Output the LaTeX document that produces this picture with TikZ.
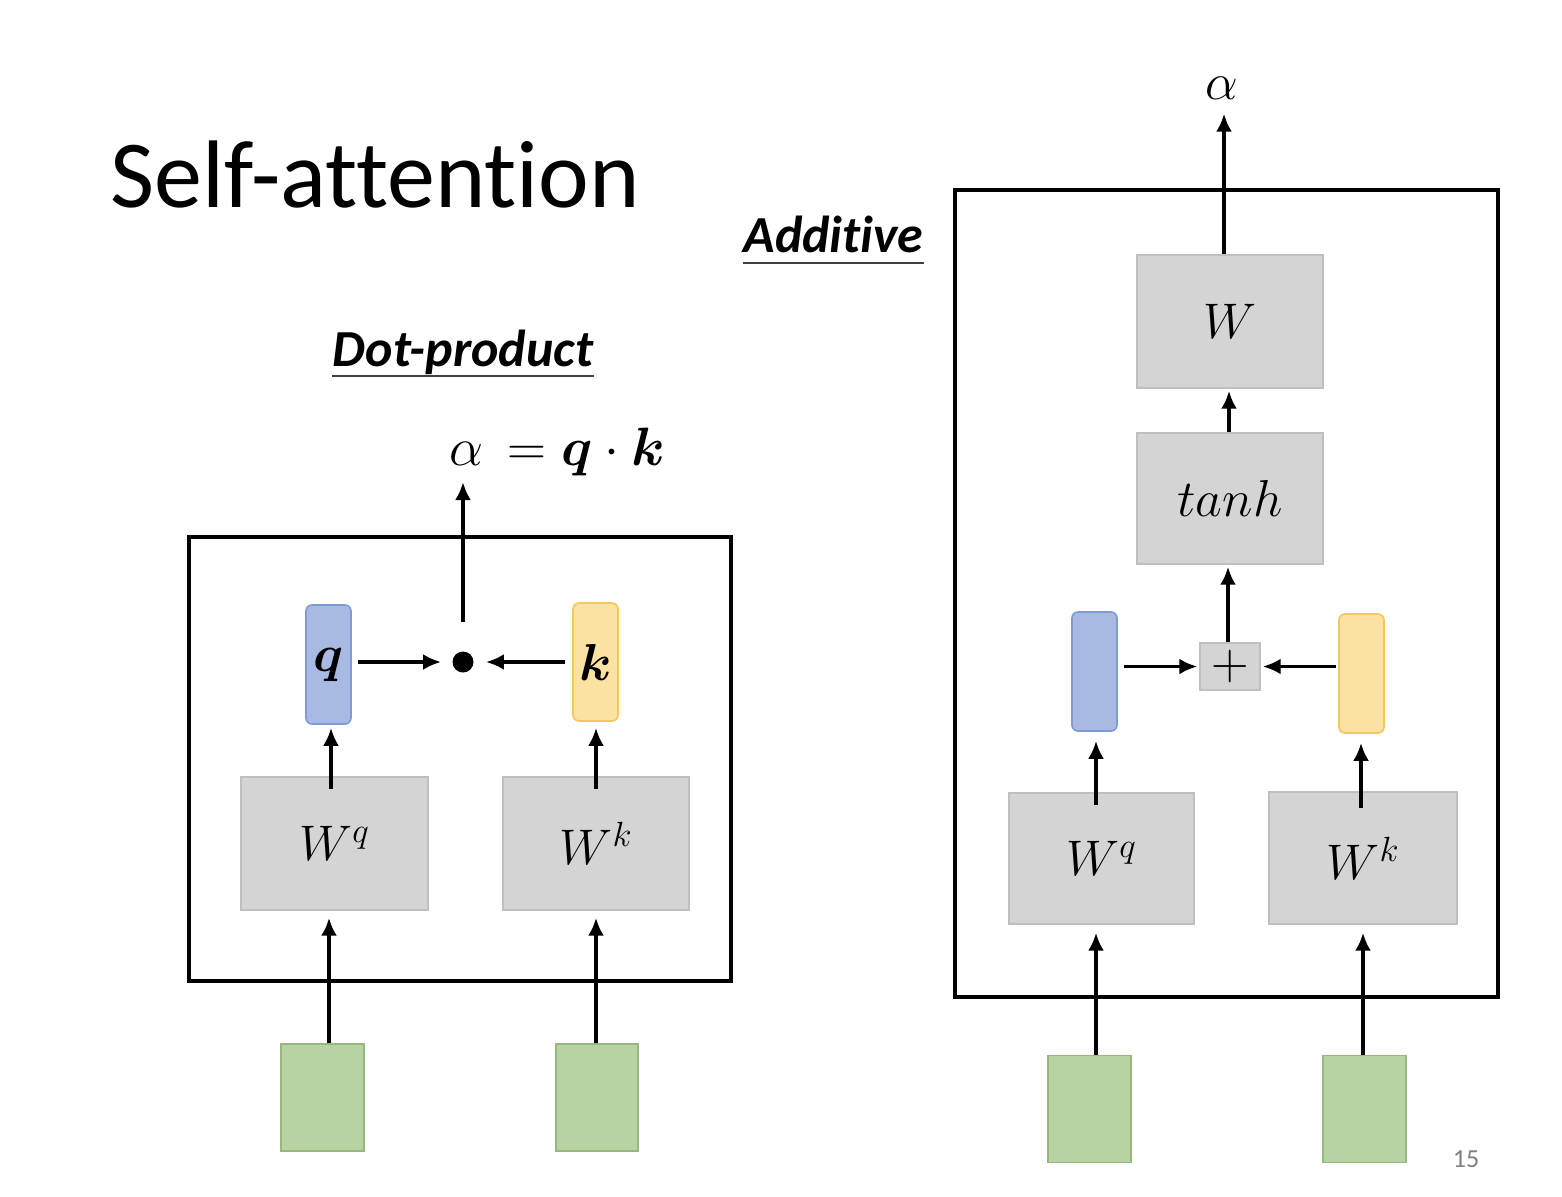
\RequirePackage{fix-cm}
\documentclass[tikz,border=0pt]{standalone}
\usepackage{bm}
\usepackage{fontspec}
\setmainfont{Carlito}[Ligatures={NoCommon}]
\usetikzlibrary{arrows.meta,calc}
\definecolor{boxfill}{HTML}{D4D4D4}
\definecolor{boxline}{HTML}{BFBFBF}
\definecolor{bluefill}{HTML}{A8BAE4}
\definecolor{blueline}{HTML}{7F9BD3}
\definecolor{yelfill}{HTML}{FBE1A2}
\definecolor{yelline}{HTML}{F3C75C}
\definecolor{grnfill}{HTML}{B8D2A4}
\definecolor{grnline}{HTML}{93B97E}
\tikzset{
  gbox/.style={draw=boxline, fill=boxfill, line width=0.7pt, inner sep=0pt, font=\fontsize{25}{29}\selectfont},
  bvec/.style={draw=blueline, fill=bluefill, line width=0.8pt, rounded corners=3pt, minimum width=22.5pt, minimum height=59.5pt, inner sep=0pt, font=\fontsize{26}{30}\selectfont},
  yvec/.style={draw=yelline, fill=yelfill, line width=0.8pt, rounded corners=3pt, minimum width=22.5pt, minimum height=59pt, inner sep=0pt, font=\fontsize{26}{30}\selectfont},
  inbox/.style={draw=grnline, fill=grnfill, line width=0.7pt, minimum width=41.5pt, minimum height=53.5pt, inner sep=0pt},
  arr/.style={-{Latex[length=9pt,width=8pt]}, line width=1.9pt},
  frame/.style={line width=2.3pt},
  head/.style={font=\fontsize{26}{30}\selectfont\bfseries\itshape, inner sep=0pt},
}
\begin{document}
\begin{tikzpicture}[x=0.5pt,y=-0.5pt]
\useasboundingbox (0,0) rectangle (1562,1196);
\fill[white] (0,0) rectangle (1562,1196);

% title
\node[anchor=base west, inner sep=0pt, font=\fontsize{48}{56}\selectfont] (title) at (110,207) {Self-attention};

% ---------- Dot-product ----------
\node[head, anchor=base] (dph) at (463,366) {Dot-product};
\draw[line width=1pt, black!75] ([yshift=-5pt]dph.base west) -- ([yshift=-5pt]dph.base east);

\draw[frame] (189,537) rectangle (731,981);

\node[gbox, minimum width=93.5pt, minimum height=66.5pt] (WqL) at (334.5,843.5) {$W^q$};
\node[gbox, minimum width=93pt, minimum height=66.5pt] (WkL) at (596,843.5) {$W^k$};
\node[bvec] (qL) at (328.5,664.5) {$\bm{q}$};
\node[yvec] (kL) at (595.5,662) {$\bm{k}$};
\node[circle, fill=black, minimum size=10.5pt, inner sep=0pt] (dot) at (463,662) {};
\node[inbox] (inL1) at (322.5,1097.5) {};
\node[inbox, minimum width=41pt] (inL2) at (597,1097.5) {};
\node[anchor=base west, inner sep=0pt, font=\fontsize{27}{31}\selectfont] (alphaL) at (449,465) {$\alpha\,=\bm{q}\cdot\bm{k}$};
\coordinate (alphaLb) at (463,480);

\draw[arr, shorten <=3pt, shorten >=5.5pt] (qL.east |- dot) -- (dot.west);
\draw[arr, shorten <=3.5pt, shorten >=6pt] (kL.west |- dot) -- (dot.east);
\draw[arr, shorten <=14.5pt, shorten >=1pt] (dot.north) -- (alphaLb);
\draw[arr, shorten <=-6.5pt, shorten >=1.5pt] (WqL.north -| 331,0) -- (qL.south -| 331,0);
\draw[arr, shorten <=-6.5pt, shorten >=3pt] (WkL.north -| 596,0) -- (kL.south -| 596,0);
\draw[arr, shorten >=3.5pt] (inL1.north -| 329,0) -- (WqL.south -| 329,0);
\draw[arr, shorten >=3.5pt] (inL2.north -| 596,0) -- (WkL.south -| 596,0);

% ---------- Additive ----------
\node[head, anchor=base] (adh) at (833.5,252) {Additive};
\draw[line width=1pt, black!75] ([yshift=-5.5pt]adh.base west) -- ([yshift=-5.5pt]adh.base east);

\draw[frame] (955,190) rectangle (1498,997);

\node[gbox, minimum width=93pt, minimum height=66.5pt] (WR) at (1230,321.5) {$W$};
\node[gbox, minimum width=93pt, minimum height=65.5pt, font=\fontsize{26}{30}\selectfont] (tanhR) at (1230,498.5) {$tanh$};
\node[gbox, minimum width=30pt, minimum height=23.5pt, font=\fontsize{26}{30}\selectfont] (plus) at (1230,666.5) {$+$};
\node[bvec] (qR) at (1094.5,671.5) {};
\node[yvec, minimum height=59.5pt] (kR) at (1361.5,673.5) {};
\node[gbox, minimum width=92.5pt, minimum height=65.5pt] (WqR) at (1101.5,858.5) {$W^q$};
\node[gbox, minimum width=94pt, minimum height=66pt] (WkR) at (1363,858) {$W^k$};
\node[inbox] (inR1) at (1089.5,1109) {};
\node[inbox] (inR2) at (1364.5,1109) {};
\node[inner sep=0pt, font=\fontsize{26}{30}\selectfont] (alphaR) at (1222,88) {$\alpha$};

\draw[arr, shorten <=3pt, shorten >=1pt] (qR.east |- plus) -- (plus.west);
\draw[arr, shorten <=1pt, shorten >=1pt] (kR.west |- plus) -- (plus.east);
\draw[arr, shorten >=1pt] (plus.north -| 1228,0) -- (tanhR.south -| 1228,0);
\draw[arr, shorten >=1pt] (tanhR.north -| 1229,0) -- (WR.south -| 1229,0);
\draw[arr, shorten >=7pt] (WR.north -| 1224,0) -- (alphaR.south -| 1224,0);
\draw[arr, shorten <=-6.5pt, shorten >=4.5pt] (WqR.north -| 1096,0) -- (qR.south -| 1096,0);
\draw[arr, shorten <=-8.5pt, shorten >=4.5pt] (WkR.north -| 1361,0) -- (kR.south -| 1361,0);
\draw[arr, shorten >=4pt] (inR1.north -| 1096,0) -- (WqR.south -| 1096,0);
\draw[arr, shorten >=4pt] (inR2.north -| 1363,0) -- (WkR.south -| 1363,0);

% page number
\node[text=gray, font=\fontsize{13}{15}\selectfont, inner sep=0pt] (pg) at (1466,1159) {15};
\end{tikzpicture}
\end{document}
